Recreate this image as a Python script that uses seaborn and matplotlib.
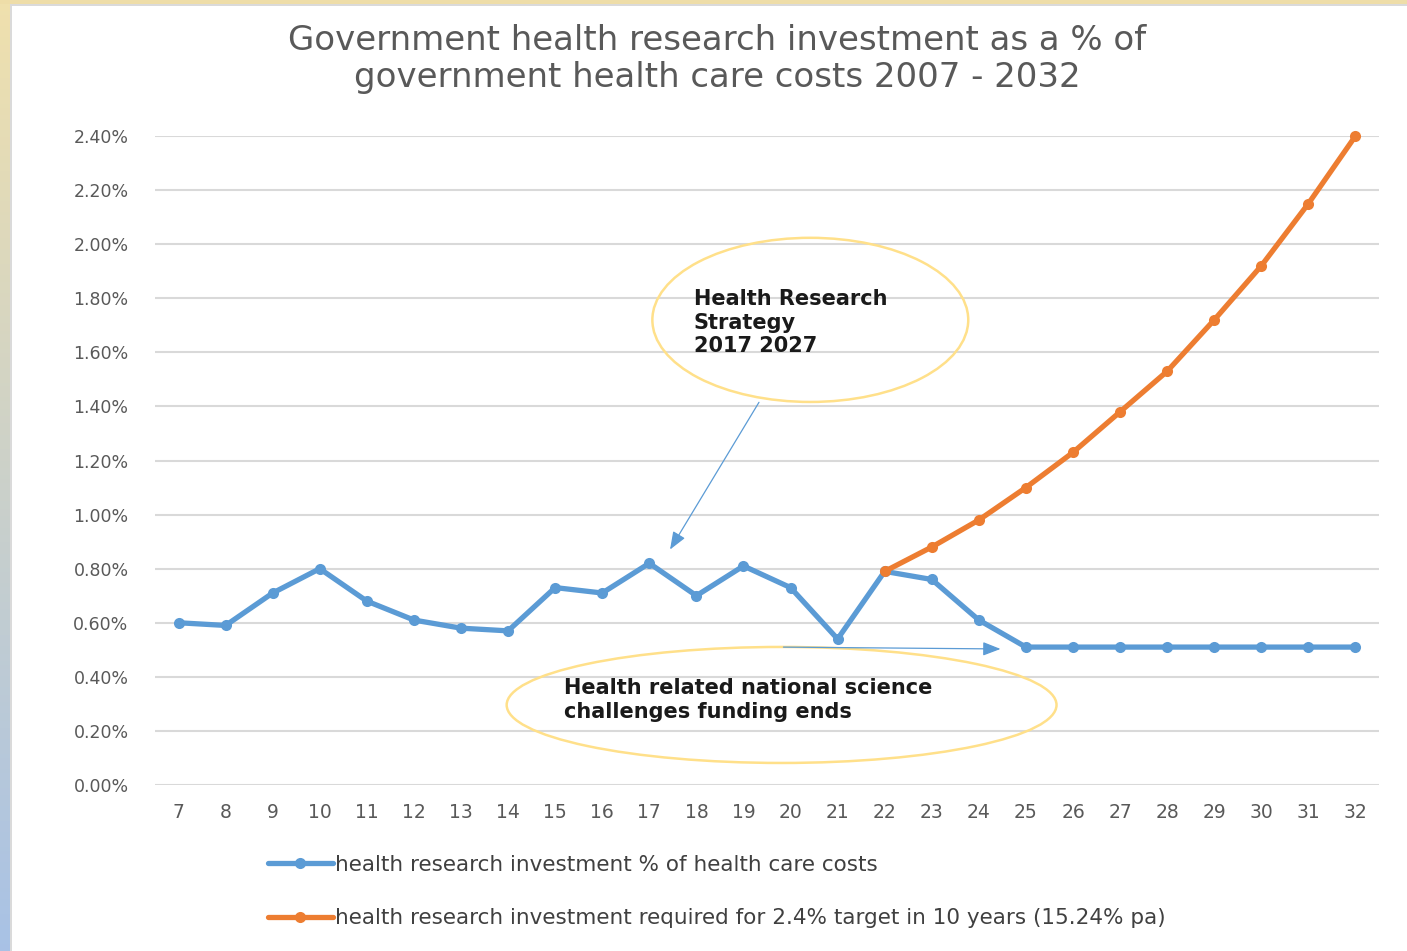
import numpy as np
import pandas as pd
import matplotlib
matplotlib.use("Agg")
import matplotlib.pyplot as plt
import seaborn as sns
from matplotlib.patches import Ellipse

# DATA
years = list(range(7, 33))
current_pct = [0.60, 0.59, 0.71, 0.80, 0.68, 0.61, 0.58, 0.57, 0.73, 0.71,
               0.82, 0.70, 0.81, 0.73, 0.54, 0.79, 0.76, 0.61, 0.51, 0.51,
               0.51, 0.51, 0.51, 0.51, 0.51, 0.51]
target_years = list(range(22, 33))
target_pct = [0.79, 0.88, 0.98, 1.10, 1.23, 1.38, 1.53, 1.72, 1.92, 2.15, 2.40]
y_ticks = [0.0, 0.2, 0.4, 0.6, 0.8, 1.0, 1.2, 1.4, 1.6, 1.8, 2.0, 2.2, 2.4]

label_current = "health research investment % of health care costs"
label_target = "health research investment required for 2.4% target in 10 years (15.24% pa)"
title = "Government health research investment as a % of\ngovernment health care costs 2007 - 2032"

BLUE = "#5B9BD5"
ORANGE = "#ED7D31"
GREY = "#595959"

sns.set_theme(style="white")
plt.rcParams["font.family"] = ["DejaVu Sans"]

W, H = 1407, 951
fig = plt.figure(figsize=(W / 100, H / 100), dpi=100)
fig.patch.set_facecolor("white")

# slide border: gradient strip left, beige strip top
bg = fig.add_axes([0, 0, 1, 1], zorder=-10)
bg.set_xlim(0, W)
bg.set_ylim(H, 0)
bg.axis("off")
grad = np.linspace(0, 1, 256)[:, None, None]
c_top = np.array([0.94, 0.88, 0.68])
c_bot = np.array([0.66, 0.76, 0.90])
strip = c_top * (1 - grad) + c_bot * grad
bg.imshow(strip, extent=[0, 10, H, 0], aspect="auto")
bg.add_patch(plt.Rectangle((0, 0), W, 4, color="#EEDDA8", lw=0))
bg.add_patch(plt.Rectangle((10, 4), W, 2, color="#DADADA", lw=0))
bg.add_patch(plt.Rectangle((10, 4), 2, H, color="#DADADA", lw=0))

ax = fig.add_axes([155 / W, 1 - 785 / H, (1379 - 155) / W, (785 - 136) / H])
ax.set_facecolor("none")

df_cur = pd.DataFrame({"year": years, "pct": current_pct})
df_tgt = pd.DataFrame({"year": target_years, "pct": target_pct})

sns.lineplot(data=df_cur, x="year", y="pct", ax=ax, color=BLUE, lw=3.8,
             marker="o", markersize=8, markeredgewidth=0, clip_on=False,
             label=label_current, zorder=3)
sns.lineplot(data=df_tgt, x="year", y="pct", ax=ax, color=ORANGE, lw=3.8,
             marker="o", markersize=8, markeredgewidth=0, clip_on=False,
             label=label_target, zorder=4)

ax.set_xlim(6.5, 32.5)
ax.set_ylim(0, 2.4)
ax.set_yticks(y_ticks)
ax.set_yticklabels([f"{v:.2f}%" for v in y_ticks])
ax.set_xticks(years)
ax.set_xticklabels([str(y) for y in years])
ax.yaxis.grid(True, color="#D9D9D9", lw=1.5)
ax.xaxis.grid(False)
for s in ax.spines.values():
    s.set_visible(False)
ax.tick_params(axis="y", colors=GREY, labelsize=12.5, length=0, pad=19)
ax.tick_params(axis="x", colors=GREY, labelsize=13.5, length=0, pad=13)
ax.set_xlabel("")
ax.set_ylabel("")

fig.text(717 / W, 1 - 59 / H, title, ha="center", va="center",
         fontsize=24.5, color=GREY, linespacing=1.16)

# annotations
ax.add_patch(Ellipse((20.42, 1.72), 6.71, 0.607, fill=False,
                     ec="#FFE08A", lw=1.8, zorder=2))
ax.text(17.94, 1.71, "Health Research\nStrategy\n2017 2027", ha="left",
        va="center", fontsize=15, fontweight="bold", color="#1a1a1a",
        linespacing=1.2)
ax.annotate("", xy=(17.41, 0.862), xytext=(19.36, 1.424),
            arrowprops=dict(arrowstyle="-|>,head_length=0.9,head_width=0.35",
                            color=BLUE, lw=0.9))

ax.add_patch(Ellipse((19.81, 0.296), 11.68, 0.429, fill=False,
                     ec="#FFE08A", lw=1.8, zorder=2))
ax.text(15.18, 0.314, "Health related national science\nchallenges funding ends",
        ha="left", va="center", fontsize=15, fontweight="bold",
        color="#1a1a1a", linespacing=1.2)
ax.annotate("", xy=(24.52, 0.503), xytext=(19.79, 0.51),
            arrowprops=dict(arrowstyle="-|>,head_length=0.9,head_width=0.35",
                            color=BLUE, lw=0.9))

ax.get_legend().remove()
handles, labels = ax.get_legend_handles_labels()
fig.legend(handles, labels, loc="upper left",
           bbox_to_anchor=(268 / W, 1 - 855 / H), frameon=False,
           fontsize=15.5, labelcolor="#404040", handlelength=3.0,
           handletextpad=0.1, labelspacing=1.55, borderpad=0,
           borderaxespad=0)

fig.savefig("out.png", dpi=100, facecolor="white")
